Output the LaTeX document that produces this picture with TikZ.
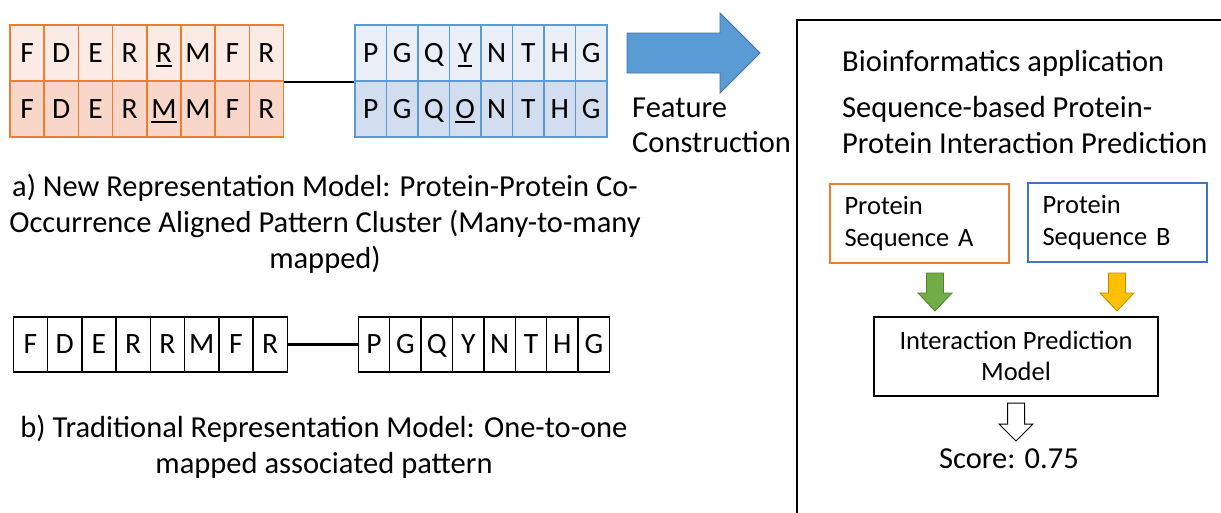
\documentclass[tikz,border=0pt]{standalone}
\usepackage{fontspec}
\setmainfont{Carlito}

% palette
\definecolor{orEdge}{HTML}{ED7D31}
\definecolor{orLight}{HTML}{FCEBE4}
\definecolor{orMid}{HTML}{F8D6C9}
\definecolor{blEdge}{HTML}{5B9BD5}
\definecolor{blLight}{HTML}{E9EEF7}
\definecolor{blMid}{HTML}{D2DEEF}
\definecolor{bigArrow}{HTML}{5B9BD5}
\definecolor{bigArrowEdge}{HTML}{41719C}
\definecolor{seqBEdge}{HTML}{4472C4}
\definecolor{grFill}{HTML}{70AD47}
\definecolor{grEdge}{HTML}{507E32}
\definecolor{yeFill}{HTML}{FFC000}
\definecolor{yeEdge}{HTML}{BC8C00}

% thick, low underline for the mutated residue
\newcommand\mutres[1]{\setbox0\hbox{#1}\rlap{\rule[-4.5pt]{\wd0}{2pt}}\box0}

\tikzset{
  seqtxt/.style={font=\fontsize{29.5}{30}\selectfont, text height=18.5pt, text depth=0pt, inner sep=0pt},
  orcellA/.style={seqtxt, draw=orEdge, fill=orLight, line width=1.5pt, minimum width=34.2pt, minimum height=56pt},
  orcellB/.style={orcellA, fill=orMid},
  blcellA/.style={seqtxt, draw=blEdge, fill=blLight, line width=1.5pt, minimum width=31.5pt, minimum height=56pt},
  blcellB/.style={blcellA, fill=blMid},
  plaincellL/.style={seqtxt, draw=black, line width=1.5pt, minimum width=34.25pt, minimum height=55pt},
  plaincellR/.style={plaincellL, minimum width=31.4pt},
  bigtxt/.style={font=\fontsize{30.5}{36}\selectfont, inner sep=0pt},
  boxtxt/.style={font=\fontsize{26.5}{32}\selectfont, inner sep=0pt},
  link/.style={draw=black, line width=2.5pt},
  inbox/.style={line width=2pt, fill=white, minimum height=79pt, minimum width=179pt,
                boxtxt, align=left, text width=150pt, inner xsep=14.5pt, inner ysep=0pt},
}

\begin{document}
\begin{tikzpicture}[x=1pt, y=-1pt]
\useasboundingbox (0,0) rectangle (1221,512);

% ---- co-occurrence aligned pattern cluster (two aligned rows per protein)
\foreach \ch [count=\i] in {F,D,E,R,{\mutres{R}},M,F,R}
  \node[orcellA] (oa\i) at ({10+34.2*(\i-0.5)},53) {\ch};
\foreach \ch [count=\i] in {F,D,E,R,{\mutres{M}},M,F,R}
  \node[orcellB] (ob\i) at ({10+34.2*(\i-0.5)},109) {\ch};
\foreach \ch [count=\i] in {P,G,Q,{\mutres{Y}},N,T,H,G}
  \node[blcellA] (ba\i) at ({355+31.5*(\i-0.5)},53) {\ch};
\foreach \ch [count=\i] in {P,G,Q,{\mutres{O}},N,T,H,G}
  \node[blcellB] (bb\i) at ({355+31.5*(\i-0.5)},109) {\ch};
\draw[link] (oa8.south east) -- (ba1.south west);

% ---- captions
\node[bigtxt, anchor=base] (capa1) at (325,196) {a) New Representation Model: Protein-Protein Co-};
\node[bigtxt, anchor=base] (capa2) at (325,232) {Occurrence Aligned Pattern Cluster (Many-to-many};
\node[bigtxt, anchor=base] (capa3) at (325,268) {mapped)};

% ---- one-to-one associated pattern
\foreach \ch [count=\i] in {F,D,E,R,R,M,F,R}
  \node[plaincellL] (tl\i) at ({13.3+34.25*(\i-0.5)},344.5) {\ch};
\foreach \ch [count=\i] in {P,G,Q,Y,N,T,H,G}
  \node[plaincellR] (tr\i) at ({358.3+31.4*(\i-0.5)},344.5) {\ch};
\draw[link] (tl8.east) -- (tr1.west);

\node[bigtxt, anchor=base] (capb1) at (324,437) {b) Traditional Representation Model: One-to-one};
\node[bigtxt, anchor=base] (capb2) at (324,473) {mapped associated pattern};

% ---- feature construction arrow
\draw[fill=bigArrow, draw=bigArrowEdge, line width=0.8pt]
  (627,33) -- (720,33) -- (720,13) -- (760,53) -- (720,93) -- (720,73) -- (627,73) -- cycle;
\node[bigtxt, anchor=base west] (feat1) at (632,117) {Feature};
\node[bigtxt, anchor=base west] (feat2) at (632,152) {Construction};

% ---- application panel
\draw[line width=2.5pt] (1222,20) -- (797,20) -- (797,513);
\node[bigtxt, anchor=base west] (app) at (842,71) {Bioinformatics application};
\node[bigtxt, anchor=base west] (ppi1) at (842,117) {Sequence-based Protein-};
\node[bigtxt, anchor=base west] (ppi2) at (842,153) {Protein Interaction Prediction};

\node[inbox, draw=orEdge] (seqA) at (919.5,223.5) {Protein\\Sequence A};
\node[inbox, draw=seqBEdge] (seqB) at (1117.5,222.5) {Protein\\Sequence B};

\draw[fill=grFill, draw=grEdge, line width=0.8pt]
  (926.5,273) -- (943.5,273) -- (943.5,293) -- (952,293) -- (935,311) -- (918,293) -- (926.5,293) -- cycle;
\draw[fill=yeFill, draw=yeEdge, line width=0.8pt]
  (1108.5,273) -- (1125.5,273) -- (1125.5,293) -- (1134,293) -- (1117,311) -- (1100,293) -- (1108.5,293) -- cycle;

\node[draw=black, line width=2pt, minimum width=284pt, minimum height=79pt, inner sep=0pt] (ipm) at (1016,356.5) {};
\node[boxtxt, anchor=base] (ipm1) at (1016,349) {Interaction Prediction};
\node[boxtxt, anchor=base] (ipm2) at (1016,380) {Model};

\draw[fill=white, draw=black, line width=1pt]
  (1007.5,403) -- (1024.5,403) -- (1024.5,424) -- (1033,424) -- (1016,441) -- (999,424) -- (1007.5,424) -- cycle;
\node[bigtxt, anchor=base] (score) at (1009,468) {Score: 0.75};
\end{tikzpicture}
\end{document}
